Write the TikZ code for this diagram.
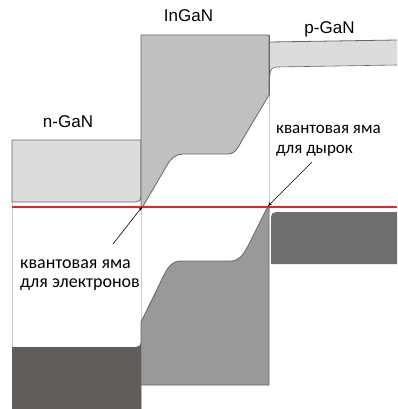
\documentclass[tikz,border=0pt]{standalone}
\usepackage{fontspec}
\setmainfont{Liberation Sans}
\newfontfamily\cyr{Carlito}
\usetikzlibrary{arrows.meta}
\definecolor{cblight}{HTML}{DCDCDC}
\definecolor{cbmid}{HTML}{C0C0C0}
\definecolor{vbdark}{HTML}{615D5B}
\definecolor{vbmid}{HTML}{9A9998}
\definecolor{vbp}{HTML}{706E6C}
\definecolor{edge}{HTML}{666666}
\definecolor{faint}{HTML}{C8C8C8}
\definecolor{fermi}{HTML}{E3262A}
\tikzset{
  cbl/.style={fill=cblight, draw=edge, line width=0.8pt, line join=round},
  cbm/.style={fill=cbmid, draw=edge, line width=0.8pt, line join=round},
  vbm/.style={fill=vbmid, draw=edge, line width=0.8pt, line join=round},
  guide/.style={draw=faint, line width=0.6pt},
  lbl/.style={font=\fontsize{17}{20}\selectfont, inner sep=0pt},
  cyrlbl/.style 2 args={font=\cyr\fontsize{#1}{#2}\selectfont, align=left, inner sep=0pt},
  pointer/.style={draw=black, line width=0.6pt, -{Stealth[length=4pt,width=3pt]}},
}
\begin{document}
\begin{tikzpicture}[x=1pt,y=-1pt]
\useasboundingbox (0,0) rectangle (397,409);
% faint guides
\draw[guide] (12,202) -- (12,347);
\draw[guide] (141,208) -- (141,409);
\draw[guide] (269,95) -- (269,212);
% n-GaN conduction band
\draw[cbl] (141,140) -- (12,140) -- (12,202) -- (136,202) .. controls (139,202) and (141,200) .. (141,197) -- cycle;
% InGaN conduction band
\draw[cbm] (141,35) -- (269,35) -- (269,95) -- (241,142) .. controls (237,150) and (234,154) .. (228,154) -- (183,154) .. controls (176,154) and (171,158) .. (166,167) -- (142,208) -- (141,208) -- cycle;
% p-GaN conduction band
\fill[cblight] (270,42) -- (397,40) -- (397,65) -- (277,67) .. controls (272,67) and (270,70) .. (270,75) -- cycle;
\draw[edge, line width=0.8pt] (270,42) -- (397,40);
\draw[edge, line width=0.6pt] (397,65) -- (277,67) .. controls (272,67) and (270,70) .. (270,75);
\draw[edge, line width=0.8pt] (269,35) -- (269,95);
% n-GaN valence band
\fill[vbdark] (12,347) -- (136,347) .. controls (139,347) and (141,345) .. (141,342) -- (141,409) -- (12,409) -- cycle;
% InGaN valence band
\draw[vbm] (141,322) -- (163,277) .. controls (168,266) and (173,261) .. (181,261) -- (231,261) .. controls (239,261) and (243,255) .. (248,246) -- (268,206) -- (269,206) -- (269,385) -- (141,385) -- cycle;
% p-GaN valence band
\fill[vbp] (271,264) -- (271,217) .. controls (271,214) and (273,212) .. (276,212) -- (397,212) -- (397,264) -- cycle;
% Fermi level
\draw[fermi, line width=1.6pt] (12,207) -- (397,207);
% labels
\node[lbl, anchor=base] (n) at (68,128) {n-GaN};
\node[lbl, anchor=base] (i) at (188.5,22) {InGaN};
\node[lbl, anchor=base] (p) at (329.5,34) {p-GaN};
\node[cyrlbl={18}{19}, anchor=base west] (qe) at (20,287) {квантовая яма\\для электронов};
\node[cyrlbl={17}{20}, anchor=base west] (qh) at (276,153) {квантовая яма\\для дырок};
% pointers
\coordinate (qes) at (113,244);
\coordinate (qee) at (142,207);
\coordinate (qhs) at (312,162);
\coordinate (qhe) at (268,206);
\draw[pointer] (qes) -- (qee);
\draw[pointer] (qhs) -- (qhe);
\end{tikzpicture}
\end{document}
